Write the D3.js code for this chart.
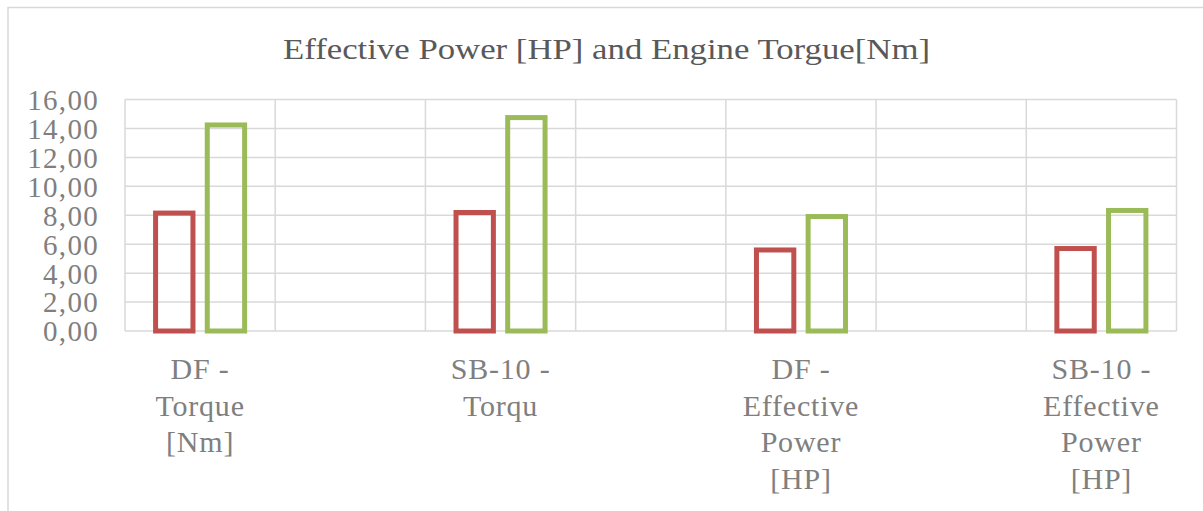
<!DOCTYPE html>
<html>
<head>
<meta charset="utf-8">
<script src="https://cdn.jsdelivr.net/npm/d3@7"></script>
<style>
  html, body { margin: 0; padding: 0; background: #fff; }
  svg { display: block; }
</style>
</head>
<body>
<svg id="chart" width="1203" height="511"></svg>
<script>
// ---- data ----
const title = "Effective Power [HP] and Engine Torgue[Nm]";
const categories = ["DF -\nTorque\n[Nm]", "", "SB-10 -\nTorqu", "", "DF -\nEffective\nPower\n[HP]", "", "SB-10 -\nEffective\nPower\n[HP]"];
const seriesNames = ["Series1", "Series2"];
const series1 = [8.15, null, 8.19, null, 5.6, null, 5.7];
const series2 = [14.24, null, 14.75, null, 7.91, null, 8.33];
const yTicks = [0, 2, 4, 6, 8, 10, 12, 14, 16];
const colors = ["#c0504d", "#9bbb59"];

// ---- layout ----
const W = 1203, H = 511;
const plot = { left: 125, right: 1176.5, top: 99.5, bottom: 331 };
const svg = d3.select("#chart");
const font = "'Liberation Serif', 'Times New Roman', serif";

// chart border
svg.append("path")
  .attr("d", `M8,${H + 5}V7.5H${W + 5}`)
  .attr("fill", "none").attr("stroke", "#d9d9d9").attr("stroke-width", 1.5);

const x = d3.scaleBand().domain(d3.range(categories.length))
  .range([plot.left, plot.right]).paddingInner(0).paddingOuter(0);
const y = d3.scaleLinear().domain([0, 16]).range([plot.bottom, plot.top]);
const sub = d3.scaleBand().domain(seriesNames)
  .range([x.bandwidth() * 0.187, x.bandwidth() * 0.813]).paddingInner(0.18).paddingOuter(0);

const locale = d3.formatLocale({ decimal: ",", thousands: ".", grouping: [3], currency: ["", ""] });
const fmt = locale.format(".2f");

// gridlines
const grid = svg.append("g").attr("stroke", "#d9d9d9").attr("stroke-width", 1.5);
grid.selectAll("line.h").data(yTicks).join("line").attr("class", "h")
  .attr("x1", plot.left).attr("x2", plot.right)
  .attr("y1", d => y(d)).attr("y2", d => y(d));
const vx = x.domain().map(i => x(i)).concat([plot.right]);
grid.selectAll("line.v").data(vx).join("line").attr("class", "v")
  .attr("x1", d => d).attr("x2", d => d)
  .attr("y1", plot.top).attr("y2", plot.bottom);

// y axis labels
const yAxis = d3.axisLeft(y).tickValues(yTicks).tickFormat(fmt).tickSize(0).tickPadding(0);
const yg = svg.append("g").attr("transform", `translate(${plot.left - 26},0)`).call(yAxis);
yg.select(".domain").remove();
yg.selectAll("text").attr("font-family", font).attr("font-size", 29).attr("fill", "#7f7f7f")
  .attr("letter-spacing", "1.3px")
  .attr("dy", "0.34em");

// bars
const data = categories.map((c, i) => ({ i, vals: [series1[i], series2[i]] }));
const sw = 5;
const groups = svg.append("g").selectAll("g").data(data).join("g")
  .attr("transform", d => `translate(${x(d.i)},0)`);
groups.selectAll("rect")
  .data(d => d.vals.map((v, k) => ({ v, k })).filter(e => e.v != null))
  .join("rect")
  .attr("x", e => sub(seriesNames[e.k]) + sw / 2)
  .attr("width", sub.bandwidth() - sw)
  .attr("y", e => y(e.v))
  .attr("height", e => y(0) - y(e.v))
  .attr("fill", "none")
  .attr("stroke", e => colors[e.k])
  .attr("stroke-width", sw);

// x labels
const xl = svg.append("g");
categories.forEach((c, i) => {
  if (!c) return;
  const cx = x(i) + x.bandwidth() / 2;
  const t = xl.append("text")
    .attr("x", cx)
    .attr("y", 379)
    .attr("text-anchor", "middle")
    .attr("letter-spacing", "0.8px")
    .attr("font-family", font).attr("font-size", 30).attr("fill", "#7f7f7f");
  c.split("\n").forEach((line, j) => {
    t.append("tspan").attr("x", cx)
      .attr("y", 379 + j * 36.5).text(line);
  });
});

// title
svg.append("text").attr("x", 606.5).attr("y", 59)
  .attr("text-anchor", "middle")
  .attr("font-family", font).attr("font-size", 30).attr("fill", "#595959")
  .attr("textLength", 647).attr("lengthAdjust", "spacingAndGlyphs")
  .text(title);
</script>
</body>
</html>
